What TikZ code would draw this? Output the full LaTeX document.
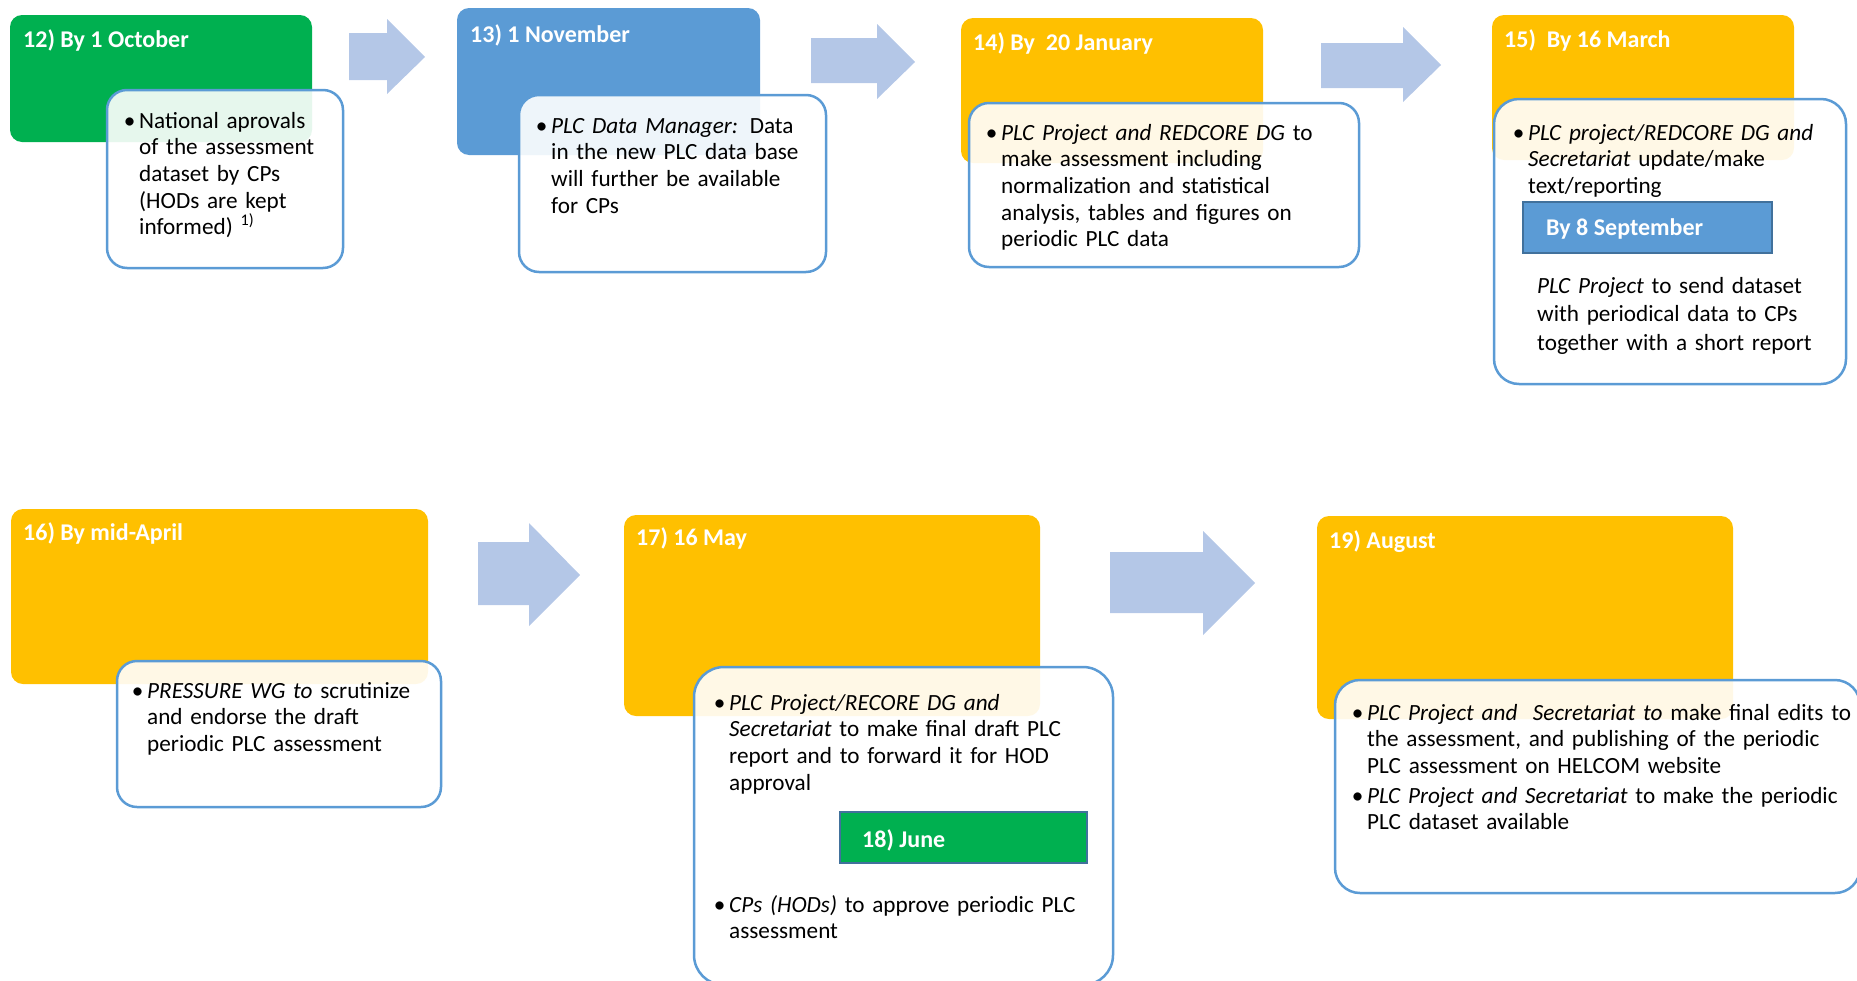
\documentclass[tikz,border=0pt]{standalone}
\usepackage{fontspec}
\setmainfont{Carlito}
\definecolor{stepgreen}{HTML}{00B050}
\definecolor{stepblue}{HTML}{5B9BD5}
\definecolor{steporange}{HTML}{FFC000}
\definecolor{arrowblue}{HTML}{B4C7E7}
\definecolor{frameblue}{HTML}{5B9BD5}
\definecolor{tagframe}{HTML}{41719C}
\begin{document}
\begin{tikzpicture}[x=1pt,y=-1pt,
  datebox/.style={rounded corners=12pt},
  notebox/.style={draw=frameblue, line width=2.5pt, fill=white, fill opacity=0.9, rounded corners=#1},
  notebox/.default=20pt,
  tagbox/.style={draw=tagframe, line width=2pt},
  flowarrow/.style={fill=arrowblue},
  title/.style={anchor=base west, inner sep=0pt, text=white, font=\bfseries\fontsize{24}{28}\selectfont},
  body/.style={anchor=base west, inner sep=0pt, align=left, text width=#1, font=\fontsize{23.2}{26.7}\selectfont},
  bodywide/.style={body=#1, font=\fontsize{23.2}{28.5}\selectfont},
]
\useasboundingbox (0,0) rectangle (1857,980);

% ---- date blocks ----
\fill[datebox, stepgreen]  (10,15)   rectangle (312,142);
\fill[datebox, stepblue]   (457,8)   rectangle (760,155);
\fill[datebox, steporange] (961,18)  rectangle (1263,163);
\fill[datebox, steporange] (1492,15) rectangle (1794,160);
\fill[datebox, steporange] (11,509)  rectangle (428,684);
\fill[datebox, steporange] (624,515) rectangle (1040,716);
\fill[datebox, steporange] (1317,516) rectangle (1733,719);

% ---- block arrows between the steps ----
\fill[flowarrow] (349,33) -- (387,33) -- (387,19) -- (425,57) -- (387,94) -- (387,80) -- (349,80) -- cycle;
\fill[flowarrow] (811,38) -- (877,38) -- (877,24) -- (915,62) -- (877,99) -- (877,83) -- (811,83) -- cycle;
\fill[flowarrow] (1321,43) -- (1403,43) -- (1403,27) -- (1441,65) -- (1403,102) -- (1403,88) -- (1321,88) -- cycle;
\fill[flowarrow] (478,542) -- (529,542) -- (529,523) -- (580,575) -- (529,626) -- (529,605) -- (478,605) -- cycle;
\fill[flowarrow] (1110,552) -- (1203,552) -- (1203,531) -- (1255,583) -- (1203,635) -- (1203,613) -- (1110,613) -- cycle;

% ---- description frames ----
\draw[notebox]       (107,90)   rectangle (343,268);
\draw[notebox]       (519,95)   rectangle (826,272);
\draw[notebox]       (969,103)  rectangle (1359,267);
\draw[notebox=25pt]  (1494,99)  rectangle (1846,384);
\draw[notebox]       (117,661)  rectangle (441,807);
\draw[notebox=30pt]  (694,667)  rectangle (1113,985);
\draw[notebox=25pt]  (1335,680) rectangle (1860,893);

% ---- inner date tags ----
\filldraw[tagbox, fill=stepblue]  (1523,202) rectangle (1772,253);
\filldraw[tagbox, fill=stepgreen] (840,812)  rectangle (1087,863);

% ---- titles ----
\node[title] (h12) at (23,47)    {12) By 1 October};
\node[title] (h13) at (470,42)   {13) 1 November};
\node[title] (h14) at (973,50)   {14) By\ \ 20 January};
\node[title] (h15) at (1504,47)  {15)\ \ By 16 March};
\node[title] (h16) at (23,540)   {16) By mid-April};
\node[title] (h17) at (636,545)  {17) 16 May};
\node[title] (h19) at (1329,548) {19) August};
\node[title] (h15b) at (1546,235) {By 8 September};
\node[title] (h18) at (862,847)  {18) June};

% ---- descriptions ----
\node[body=220] (n12) at (139,128)
  {\llap{\textbullet\,}National aprovals\\of the assessment\\dataset by CPs\\(HODs are kept\\informed) \textsuperscript{1)}};
\node[body=300] (n13) at (551,133)
  {\llap{\textbullet\,}\textit{PLC Data Manager:} Data\\in the new PLC data base\\will further be available\\for CPs};
\node[body=380] (n14) at (1001,140)
  {\llap{\textbullet\,}\textit{PLC Project and REDCORE DG} to\\make assessment including\\normalization and statistical\\analysis, tables and figures on\\periodic PLC data};
\node[body=340] (n15) at (1528,140)
  {\llap{\textbullet\,}\textit{PLC project/REDCORE DG and}\\\textit{Secretariat} update/make\\text/reporting};
\node[bodywide=340] (n15b) at (1537,293)
  {\textit{PLC Project} to send dataset\\with periodical data to CPs\\together with a short report};
\node[body=300] (n16) at (147,698)
  {\llap{\textbullet\,}\textit{PRESSURE WG to} scrutinize\\and endorse the draft\\periodic PLC assessment};
\node[body=380] (n17) at (729,710)
  {\llap{\textbullet\,}\textit{PLC Project/RECORE DG and}\\\textit{Secretariat} to make final draft PLC\\report and to forward it for HOD\\approval};
\node[body=380] (n18) at (729,912)
  {\llap{\textbullet\,}\textit{CPs (HODs)} to approve periodic PLC\\assessment};
\node[body=560] (n19) at (1367,720)
  {\llap{\textbullet\,}\textit{PLC Project and\ \ Secretariat to} make final edits to\\the assessment, and publishing of the periodic\\PLC assessment on HELCOM website};
\node[body=560] (n19b) at (1367,803)
  {\llap{\textbullet\,}\textit{PLC Project and Secretariat} to make the periodic\\PLC dataset available};
\end{tikzpicture}
\end{document}
